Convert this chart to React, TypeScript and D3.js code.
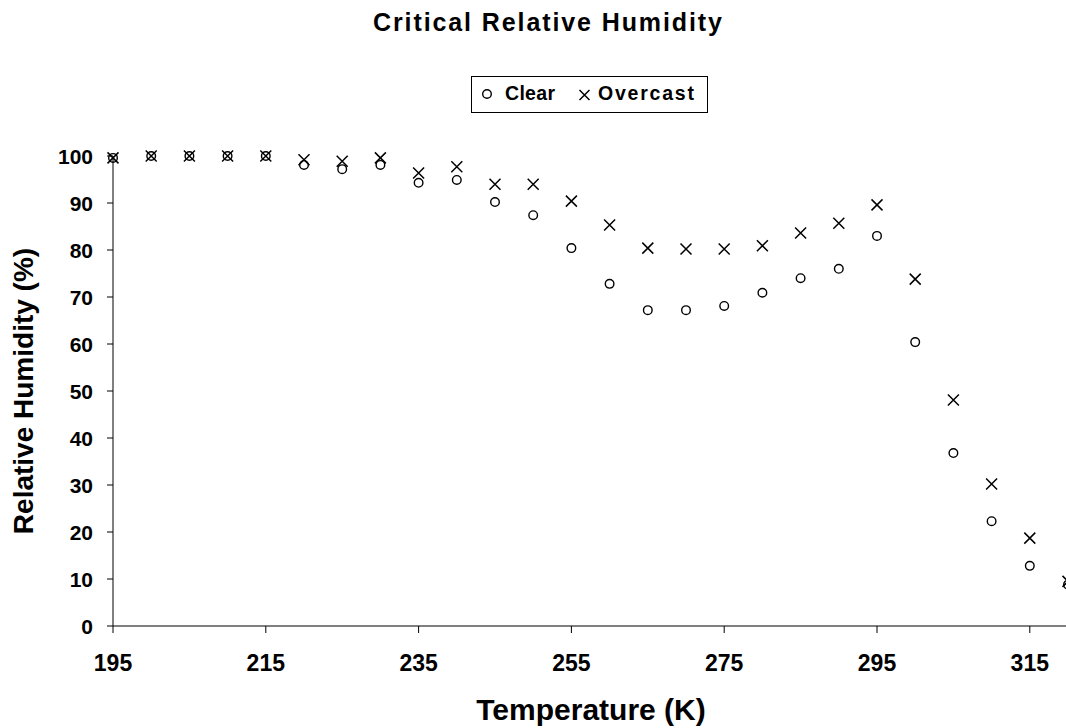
import React from 'react';
import * as d3 from 'd3';

const width = 1066;
const height = 728;
const margin = { top: 156, right: -2, bottom: 102, left: 113 };

// temperature (K)
const temps = [195, 200, 205, 210, 215, 220, 225, 230, 235, 240, 245, 250, 255, 260, 265, 270, 275, 280, 285, 290, 295, 300, 305, 310, 315, 320];
// critical RH (%)
const clear = [99.6, 100, 100, 100, 100, 98.1, 97.2, 98.1, 94.3, 94.9, 90.2, 87.4, 80.4, 72.8, 67.2, 67.2, 68.1, 70.9, 74.0, 76.0, 83.0, 60.4, 36.8, 22.3, 12.8, 8.8];
const overcast = [99.6, 100, 100, 100, 100, 99.2, 98.9, 99.6, 96.4, 97.7, 94.0, 94.0, 90.4, 85.3, 80.4, 80.2, 80.2, 80.9, 83.6, 85.7, 89.6, 73.8, 48.1, 30.2, 18.7, 9.5];

const xTicks = [195, 215, 235, 255, 275, 295, 315];
const yTicks = [0, 10, 20, 30, 40, 50, 60, 70, 80, 90, 100];

const font = '"Liberation Sans", Arial, sans-serif';

const xScale = d3.scaleLinear().domain([195, 320]).range([margin.left, width - margin.right]);
const yScale = d3.scaleLinear().domain([0, 100]).range([height - margin.bottom, margin.top]);

const Circle = ({ x, y }: { x: number; y: number }) => (
  <circle cx={x} cy={y} r={4.3} fill="none" stroke="#000" strokeWidth={1.4} />
);

const Cross = ({ x, y, s = 5.5 }: { x: number; y: number; s?: number }) => (
  <path d={`M${x - s},${y - s}L${x + s},${y + s}M${x - s},${y + s}L${x + s},${y - s}`} stroke="#000" strokeWidth={1.5} />
);

export default function App() {
  const y0 = yScale(0);
  const x0 = xScale(195);
  return (
    <svg width={width} height={height} style={{ position: 'absolute', left: 0, top: 0, background: '#fff' }} fontFamily={font}>
      <text x={373} y={31} fontSize={25} fontWeight="bold" textLength={349} lengthAdjust="spacing">Critical Relative Humidity</text>

      {/* legend */}
      <rect x={471.5} y={76.5} width={236} height={36} fill="#fff" stroke="#000" strokeWidth={1} />
      <Circle x={487} y={94} />
      <text x={505} y={100} fontSize={19.5} fontWeight="bold" textLength={50} lengthAdjust="spacing">Clear</text>
      <Cross x={584.5} y={95} s={5} />
      <text x={598} y={100} fontSize={19.5} fontWeight="bold" textLength={96} lengthAdjust="spacing">Overcast</text>

      {/* axes */}
      <line x1={x0} x2={width} y1={y0} y2={y0} stroke="#000" strokeWidth={1} />
      <line x1={x0} x2={x0} y1={yScale(100)} y2={y0} stroke="#000" strokeWidth={1} />
      {yTicks.map(t => (
        <g key={'y' + t}>
          <line x1={x0 - 6} x2={x0} y1={yScale(t)} y2={yScale(t)} stroke="#000" />
          <text x={93} y={yScale(t) + 7.5} textAnchor="end" fontSize={21} fontWeight="bold">{t}</text>
        </g>
      ))}
      {xTicks.map(t => (
        <g key={'x' + t}>
          <line x1={xScale(t)} x2={xScale(t)} y1={y0} y2={y0 + 7} stroke="#000" />
          <text x={xScale(t)} y={y0 + 45} textAnchor="middle" fontSize={23} fontWeight="bold">{t}</text>
        </g>
      ))}

      <text x={591} y={720} textAnchor="middle" fontSize={30} fontWeight="bold">Temperature (K)</text>
      <text transform={`translate(33,${(yScale(0) + yScale(100)) / 2}) rotate(-90)`} textAnchor="middle" fontSize={28} fontWeight="bold">Relative Humidity (%)</text>

      {/* points */}
      {temps.map((t, i) => <Circle key={'c' + t} x={xScale(t)} y={yScale(clear[i])} />)}
      {temps.map((t, i) => <Cross key={'o' + t} x={xScale(t)} y={yScale(overcast[i])} />)}
    </svg>
  );
}
